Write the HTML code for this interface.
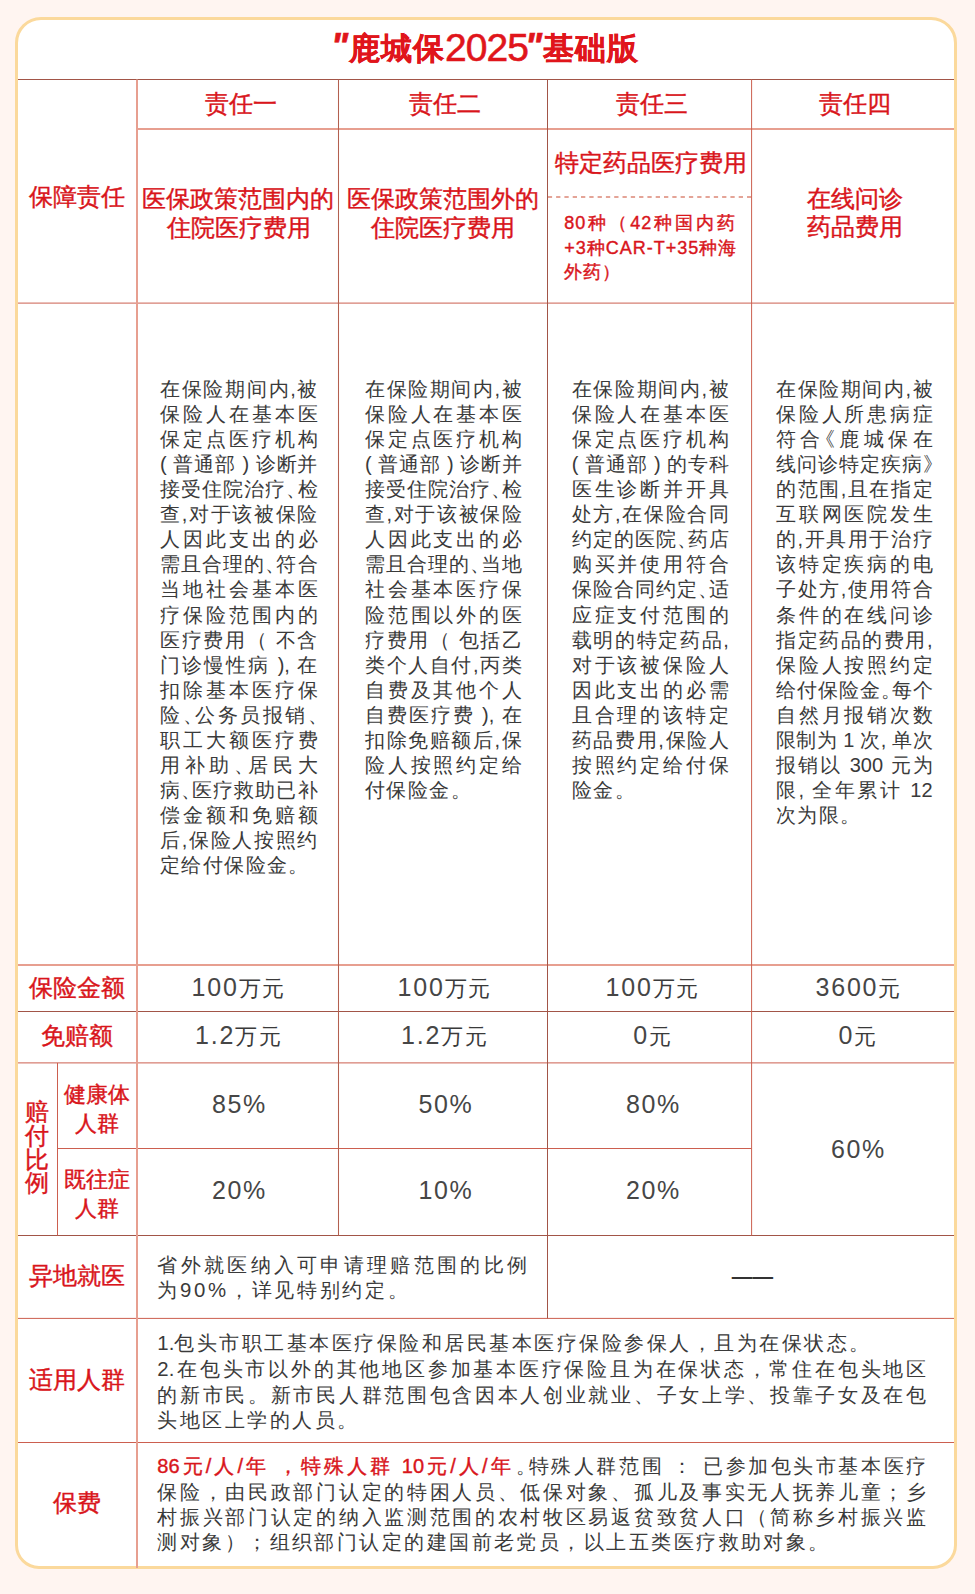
<!DOCTYPE html>
<html lang="zh"><head><meta charset="utf-8"><title>鹿城保2025基础版</title>
<style>
html,body{margin:0;padding:0}
body{width:975px;height:1594px;position:relative;overflow:hidden;background:#FFF5F1;font-family:"Liberation Sans",sans-serif}
.frame{position:absolute;left:15px;top:17px;width:942px;height:1552px;box-sizing:border-box;border:3px solid #FBD99C;border-radius:26px 26px 24px 24px;background:#fff}
svg.g{position:absolute;left:0;top:0}
.t{position:absolute;white-space:nowrap;margin:0}
.c{text-align:center}
.j{text-align:justify;text-align-last:justify}
.l{text-align:left}
.p{display:inline-block;width:.5em;text-align:left}
.q{font-size:36px;line-height:0;letter-spacing:0;-webkit-text-stroke:.7px #E0151B}
.q1{margin-left:-4px;margin-right:1px}
.q2{margin-left:-3px;margin-right:1px}
.n{font-size:39px;font-weight:400;letter-spacing:-1px;-webkit-text-stroke:.6px #E0151B;line-height:0;vertical-align:-2px}
.z{letter-spacing:0}
.po{text-indent:-.5em}
.d{font-size:25px;line-height:0;color:#464646}
.m{-webkit-text-stroke:.4px currentColor}
</style></head><body>
<div class="frame"></div>
<svg class="g" width="975" height="1594" viewBox="0 0 975 1594">
<line x1="18" y1="79.5" x2="954" y2="79.5" stroke="#A25547" stroke-width="1.0"/>
<line x1="137" y1="129.0" x2="954" y2="129.0" stroke="#E79F90" stroke-width="2.0"/>
<line x1="547.8" y1="197.1" x2="751.5" y2="197.1" stroke="#DC8676" stroke-width="1.5" stroke-dasharray="4.3 4"/>
<line x1="18" y1="303.1" x2="954" y2="303.1" stroke="#CC5F4F" stroke-width="1.0"/>
<line x1="18" y1="965.0" x2="954" y2="965.0" stroke="#E79F90" stroke-width="2.0"/>
<line x1="18" y1="1011.5" x2="954" y2="1011.5" stroke="#A25547" stroke-width="1.0"/>
<line x1="18" y1="1062.9" x2="954" y2="1062.9" stroke="#CC5F4F" stroke-width="1.0"/>
<line x1="57.5" y1="1148.5" x2="751.6" y2="1148.5" stroke="#CC5F4F" stroke-width="1.0"/>
<line x1="18" y1="1235.5" x2="954" y2="1235.5" stroke="#A25547" stroke-width="1.0"/>
<line x1="18" y1="1318.4" x2="954" y2="1318.4" stroke="#CC5F4F" stroke-width="1.0"/>
<line x1="18" y1="1442.5" x2="954" y2="1442.5" stroke="#CC5F4F" stroke-width="1.0"/>
<line x1="137.0" y1="79.5" x2="137.0" y2="1568" stroke="#E79F90" stroke-width="2.0"/>
<line x1="338.5" y1="79.5" x2="338.5" y2="1235.5" stroke="#B3604F" stroke-width="1.05"/>
<line x1="547.5" y1="79.5" x2="547.5" y2="1318.4" stroke="#A25547" stroke-width="1.0"/>
<line x1="751.6" y1="79.5" x2="751.6" y2="1235.5" stroke="#CC5F4F" stroke-width="1.0"/>
<line x1="57.5" y1="1062.9" x2="57.5" y2="1235.5" stroke="#CC5F4F" stroke-width="1.0"/>
</svg>
<div class="t c" style="left:187.0px;top:29.2px;width:600px;height:40px;line-height:40px;font-size:31px;color:#E0151B;font-weight:700;letter-spacing:1px;-webkit-text-stroke:.3px #E0151B;"><i class="q q1">"</i>鹿城保<span class="n">2025</span><i class="q q2">"</i>基础版</div>
<div class="t c m" style="left:-59.1px;top:87.9px;width:600px;height:31px;line-height:31px;font-size:24px;color:#D9151B;font-weight:400;letter-spacing:0px;">责任一</div>
<div class="t c m" style="left:145.3px;top:87.9px;width:600px;height:31px;line-height:31px;font-size:24px;color:#D9151B;font-weight:400;letter-spacing:0px;">责任二</div>
<div class="t c m" style="left:351.7px;top:87.9px;width:600px;height:31px;line-height:31px;font-size:24px;color:#D9151B;font-weight:400;letter-spacing:0px;">责任三</div>
<div class="t c m" style="left:555.3px;top:87.9px;width:600px;height:31px;line-height:31px;font-size:24px;color:#D9151B;font-weight:400;letter-spacing:0px;">责任四</div>
<div class="t c m" style="left:-223.0px;top:181.1px;width:600px;height:31px;line-height:31px;font-size:24px;color:#D9151B;font-weight:400;letter-spacing:0px;">保障责任</div>
<div class="t c m" style="left:-61.7px;top:183.3px;width:600px;height:31px;line-height:31px;font-size:24px;color:#D9151B;font-weight:400;letter-spacing:0px;">医保政策范围内的</div>
<div class="t c m" style="left:-61.4px;top:211.8px;width:600px;height:31px;line-height:31px;font-size:24px;color:#D9151B;font-weight:400;letter-spacing:0px;">住院医疗费用</div>
<div class="t c m" style="left:142.9px;top:183.3px;width:600px;height:31px;line-height:31px;font-size:24px;color:#D9151B;font-weight:400;letter-spacing:0px;">医保政策范围外的</div>
<div class="t c m" style="left:142.7px;top:211.8px;width:600px;height:31px;line-height:31px;font-size:24px;color:#D9151B;font-weight:400;letter-spacing:0px;">住院医疗费用</div>
<div class="t c m" style="left:350.5px;top:147.1px;width:600px;height:31px;line-height:31px;font-size:24px;color:#D9151B;font-weight:400;letter-spacing:0px;">特定药品医疗费用</div>
<div class="t c m" style="left:555.3px;top:183.0px;width:600px;height:31px;line-height:31px;font-size:24px;color:#D9151B;font-weight:400;letter-spacing:0px;">在线问诊</div>
<div class="t c m" style="left:555.3px;top:211.0px;width:600px;height:31px;line-height:31px;font-size:24px;color:#D9151B;font-weight:400;letter-spacing:0px;">药品费用</div>
<div class="t j m" style="left:564.2px;top:211.3px;width:172.0px;height:25px;line-height:25px;font-size:18px;color:#D9151B;font-weight:400;letter-spacing:1px">80种（42种国内药</div>
<div class="t j m" style="left:564.2px;top:235.7px;width:172.0px;height:25px;line-height:25px;font-size:18px;color:#D9151B;font-weight:400;letter-spacing:1px">+3种CAR-T+35种海</div>
<div class="t l m" style="left:564.2px;top:260.2px;height:25px;line-height:25px;font-size:18px;color:#D9151B;font-weight:400;letter-spacing:1px">外药）</div>
<div class="t j" style="left:160.0px;top:377.2px;width:157.5px;height:25px;line-height:25px;font-size:20px;color:#3a3a3a;font-weight:400;letter-spacing:0px">在保险期间内,被</div>
<div class="t j" style="left:160.0px;top:402.2px;width:157.5px;height:25px;line-height:25px;font-size:20px;color:#3a3a3a;font-weight:400;letter-spacing:0px">保险人在基本医</div>
<div class="t j" style="left:160.0px;top:427.3px;width:157.5px;height:25px;line-height:25px;font-size:20px;color:#3a3a3a;font-weight:400;letter-spacing:0px">保定点医疗机构</div>
<div class="t j" style="left:160.0px;top:452.3px;width:157.5px;height:25px;line-height:25px;font-size:20px;color:#3a3a3a;font-weight:400;letter-spacing:0px">( 普通部 ) 诊断并</div>
<div class="t j" style="left:160.0px;top:477.3px;width:157.5px;height:25px;line-height:25px;font-size:20px;color:#3a3a3a;font-weight:400;letter-spacing:0px">接受住院治疗<span class="p">、</span>检</div>
<div class="t j" style="left:160.0px;top:502.4px;width:157.5px;height:25px;line-height:25px;font-size:20px;color:#3a3a3a;font-weight:400;letter-spacing:0px">查,对于该被保险</div>
<div class="t j" style="left:160.0px;top:527.4px;width:157.5px;height:25px;line-height:25px;font-size:20px;color:#3a3a3a;font-weight:400;letter-spacing:0px">人因此支出的必</div>
<div class="t j" style="left:160.0px;top:552.4px;width:157.5px;height:25px;line-height:25px;font-size:20px;color:#3a3a3a;font-weight:400;letter-spacing:0px">需且合理的<span class="p">、</span>符合</div>
<div class="t j" style="left:160.0px;top:577.4px;width:157.5px;height:25px;line-height:25px;font-size:20px;color:#3a3a3a;font-weight:400;letter-spacing:0px">当地社会基本医</div>
<div class="t j" style="left:160.0px;top:602.5px;width:157.5px;height:25px;line-height:25px;font-size:20px;color:#3a3a3a;font-weight:400;letter-spacing:0px">疗保险范围内的</div>
<div class="t j" style="left:160.0px;top:627.5px;width:157.5px;height:25px;line-height:25px;font-size:20px;color:#3a3a3a;font-weight:400;letter-spacing:0px">医疗费用（ 不含</div>
<div class="t j" style="left:160.0px;top:652.5px;width:157.5px;height:25px;line-height:25px;font-size:20px;color:#3a3a3a;font-weight:400;letter-spacing:0px">门诊慢性病 ), 在</div>
<div class="t j" style="left:160.0px;top:677.6px;width:157.5px;height:25px;line-height:25px;font-size:20px;color:#3a3a3a;font-weight:400;letter-spacing:0px">扣除基本医疗保</div>
<div class="t j" style="left:160.0px;top:702.6px;width:157.5px;height:25px;line-height:25px;font-size:20px;color:#3a3a3a;font-weight:400;letter-spacing:0px">险<span class="p">、</span>公务员报销<span class="p">、</span></div>
<div class="t j" style="left:160.0px;top:727.6px;width:157.5px;height:25px;line-height:25px;font-size:20px;color:#3a3a3a;font-weight:400;letter-spacing:0px">职工大额医疗费</div>
<div class="t j" style="left:160.0px;top:752.7px;width:157.5px;height:25px;line-height:25px;font-size:20px;color:#3a3a3a;font-weight:400;letter-spacing:0px">用补助<span class="p">、</span>居民大</div>
<div class="t j" style="left:160.0px;top:777.7px;width:157.5px;height:25px;line-height:25px;font-size:20px;color:#3a3a3a;font-weight:400;letter-spacing:0px">病<span class="p">、</span>医疗救助已补</div>
<div class="t j" style="left:160.0px;top:802.7px;width:157.5px;height:25px;line-height:25px;font-size:20px;color:#3a3a3a;font-weight:400;letter-spacing:0px">偿金额和免赔额</div>
<div class="t j" style="left:160.0px;top:827.7px;width:157.5px;height:25px;line-height:25px;font-size:20px;color:#3a3a3a;font-weight:400;letter-spacing:0px">后,保险人按照约</div>
<div class="t l" style="left:160.0px;top:852.8px;height:25px;line-height:25px;font-size:20px;color:#3a3a3a;font-weight:400;letter-spacing:1.4px">定给付保险金<span class="p">。</span></div>
<div class="t j" style="left:365.0px;top:377.2px;width:156.7px;height:25px;line-height:25px;font-size:20px;color:#3a3a3a;font-weight:400;letter-spacing:0px">在保险期间内,被</div>
<div class="t j" style="left:365.0px;top:402.2px;width:156.7px;height:25px;line-height:25px;font-size:20px;color:#3a3a3a;font-weight:400;letter-spacing:0px">保险人在基本医</div>
<div class="t j" style="left:365.0px;top:427.3px;width:156.7px;height:25px;line-height:25px;font-size:20px;color:#3a3a3a;font-weight:400;letter-spacing:0px">保定点医疗机构</div>
<div class="t j" style="left:365.0px;top:452.3px;width:156.7px;height:25px;line-height:25px;font-size:20px;color:#3a3a3a;font-weight:400;letter-spacing:0px">( 普通部 ) 诊断并</div>
<div class="t j" style="left:365.0px;top:477.3px;width:156.7px;height:25px;line-height:25px;font-size:20px;color:#3a3a3a;font-weight:400;letter-spacing:0px">接受住院治疗<span class="p">、</span>检</div>
<div class="t j" style="left:365.0px;top:502.4px;width:156.7px;height:25px;line-height:25px;font-size:20px;color:#3a3a3a;font-weight:400;letter-spacing:0px">查,对于该被保险</div>
<div class="t j" style="left:365.0px;top:527.4px;width:156.7px;height:25px;line-height:25px;font-size:20px;color:#3a3a3a;font-weight:400;letter-spacing:0px">人因此支出的必</div>
<div class="t j" style="left:365.0px;top:552.4px;width:156.7px;height:25px;line-height:25px;font-size:20px;color:#3a3a3a;font-weight:400;letter-spacing:0px">需且合理的<span class="p">、</span>当地</div>
<div class="t j" style="left:365.0px;top:577.4px;width:156.7px;height:25px;line-height:25px;font-size:20px;color:#3a3a3a;font-weight:400;letter-spacing:0px">社会基本医疗保</div>
<div class="t j" style="left:365.0px;top:602.5px;width:156.7px;height:25px;line-height:25px;font-size:20px;color:#3a3a3a;font-weight:400;letter-spacing:0px">险范围以外的医</div>
<div class="t j" style="left:365.0px;top:627.5px;width:156.7px;height:25px;line-height:25px;font-size:20px;color:#3a3a3a;font-weight:400;letter-spacing:0px">疗费用（ 包括乙</div>
<div class="t j" style="left:365.0px;top:652.5px;width:156.7px;height:25px;line-height:25px;font-size:20px;color:#3a3a3a;font-weight:400;letter-spacing:0px">类个人自付,丙类</div>
<div class="t j" style="left:365.0px;top:677.6px;width:156.7px;height:25px;line-height:25px;font-size:20px;color:#3a3a3a;font-weight:400;letter-spacing:0px">自费及其他个人</div>
<div class="t j" style="left:365.0px;top:702.6px;width:156.7px;height:25px;line-height:25px;font-size:20px;color:#3a3a3a;font-weight:400;letter-spacing:0px">自费医疗费 ), 在</div>
<div class="t j" style="left:365.0px;top:727.6px;width:156.7px;height:25px;line-height:25px;font-size:20px;color:#3a3a3a;font-weight:400;letter-spacing:0px">扣除免赔额后,保</div>
<div class="t j" style="left:365.0px;top:752.7px;width:156.7px;height:25px;line-height:25px;font-size:20px;color:#3a3a3a;font-weight:400;letter-spacing:0px">险人按照约定给</div>
<div class="t l" style="left:365.0px;top:777.7px;height:25px;line-height:25px;font-size:20px;color:#3a3a3a;font-weight:400;letter-spacing:1.4px">付保险金<span class="p">。</span></div>
<div class="t j" style="left:571.8px;top:377.2px;width:157.0px;height:25px;line-height:25px;font-size:20px;color:#3a3a3a;font-weight:400;letter-spacing:0px">在保险期间内,被</div>
<div class="t j" style="left:571.8px;top:402.2px;width:157.0px;height:25px;line-height:25px;font-size:20px;color:#3a3a3a;font-weight:400;letter-spacing:0px">保险人在基本医</div>
<div class="t j" style="left:571.8px;top:427.3px;width:157.0px;height:25px;line-height:25px;font-size:20px;color:#3a3a3a;font-weight:400;letter-spacing:0px">保定点医疗机构</div>
<div class="t j" style="left:571.8px;top:452.3px;width:157.0px;height:25px;line-height:25px;font-size:20px;color:#3a3a3a;font-weight:400;letter-spacing:0px">( 普通部 ) 的专科</div>
<div class="t j" style="left:571.8px;top:477.3px;width:157.0px;height:25px;line-height:25px;font-size:20px;color:#3a3a3a;font-weight:400;letter-spacing:0px">医生诊断并开具</div>
<div class="t j" style="left:571.8px;top:502.4px;width:157.0px;height:25px;line-height:25px;font-size:20px;color:#3a3a3a;font-weight:400;letter-spacing:0px">处方,在保险合同</div>
<div class="t j" style="left:571.8px;top:527.4px;width:157.0px;height:25px;line-height:25px;font-size:20px;color:#3a3a3a;font-weight:400;letter-spacing:0px">约定的医院<span class="p">、</span>药店</div>
<div class="t j" style="left:571.8px;top:552.4px;width:157.0px;height:25px;line-height:25px;font-size:20px;color:#3a3a3a;font-weight:400;letter-spacing:0px">购买并使用符合</div>
<div class="t j" style="left:571.8px;top:577.4px;width:157.0px;height:25px;line-height:25px;font-size:20px;color:#3a3a3a;font-weight:400;letter-spacing:0px">保险合同约定<span class="p">、</span>适</div>
<div class="t j" style="left:571.8px;top:602.5px;width:157.0px;height:25px;line-height:25px;font-size:20px;color:#3a3a3a;font-weight:400;letter-spacing:0px">应症支付范围的</div>
<div class="t j" style="left:571.8px;top:627.5px;width:157.0px;height:25px;line-height:25px;font-size:20px;color:#3a3a3a;font-weight:400;letter-spacing:0px">载明的特定药品,</div>
<div class="t j" style="left:571.8px;top:652.5px;width:157.0px;height:25px;line-height:25px;font-size:20px;color:#3a3a3a;font-weight:400;letter-spacing:0px">对于该被保险人</div>
<div class="t j" style="left:571.8px;top:677.6px;width:157.0px;height:25px;line-height:25px;font-size:20px;color:#3a3a3a;font-weight:400;letter-spacing:0px">因此支出的必需</div>
<div class="t j" style="left:571.8px;top:702.6px;width:157.0px;height:25px;line-height:25px;font-size:20px;color:#3a3a3a;font-weight:400;letter-spacing:0px">且合理的该特定</div>
<div class="t j" style="left:571.8px;top:727.6px;width:157.0px;height:25px;line-height:25px;font-size:20px;color:#3a3a3a;font-weight:400;letter-spacing:0px">药品费用,保险人</div>
<div class="t j" style="left:571.8px;top:752.7px;width:157.0px;height:25px;line-height:25px;font-size:20px;color:#3a3a3a;font-weight:400;letter-spacing:0px">按照约定给付保</div>
<div class="t l" style="left:571.8px;top:777.7px;height:25px;line-height:25px;font-size:20px;color:#3a3a3a;font-weight:400;letter-spacing:1.4px">险金<span class="p">。</span></div>
<div class="t j" style="left:776.0px;top:377.2px;width:156.6px;height:25px;line-height:25px;font-size:20px;color:#3a3a3a;font-weight:400;letter-spacing:0px">在保险期间内,被</div>
<div class="t j" style="left:776.0px;top:402.2px;width:156.6px;height:25px;line-height:25px;font-size:20px;color:#3a3a3a;font-weight:400;letter-spacing:0px">保险人所患病症</div>
<div class="t j" style="left:776.0px;top:427.3px;width:156.6px;height:25px;line-height:25px;font-size:20px;color:#3a3a3a;font-weight:400;letter-spacing:0px">符合<span class="p po">《</span>鹿城保在</div>
<div class="t j" style="left:776.0px;top:452.3px;width:156.6px;height:25px;line-height:25px;font-size:20px;color:#3a3a3a;font-weight:400;letter-spacing:0px">线问诊特定疾病<span class="p">》</span></div>
<div class="t j" style="left:776.0px;top:477.3px;width:156.6px;height:25px;line-height:25px;font-size:20px;color:#3a3a3a;font-weight:400;letter-spacing:0px">的范围,且在指定</div>
<div class="t j" style="left:776.0px;top:502.4px;width:156.6px;height:25px;line-height:25px;font-size:20px;color:#3a3a3a;font-weight:400;letter-spacing:0px">互联网医院发生</div>
<div class="t j" style="left:776.0px;top:527.4px;width:156.6px;height:25px;line-height:25px;font-size:20px;color:#3a3a3a;font-weight:400;letter-spacing:0px">的,开具用于治疗</div>
<div class="t j" style="left:776.0px;top:552.4px;width:156.6px;height:25px;line-height:25px;font-size:20px;color:#3a3a3a;font-weight:400;letter-spacing:0px">该特定疾病的电</div>
<div class="t j" style="left:776.0px;top:577.4px;width:156.6px;height:25px;line-height:25px;font-size:20px;color:#3a3a3a;font-weight:400;letter-spacing:0px">子处方,使用符合</div>
<div class="t j" style="left:776.0px;top:602.5px;width:156.6px;height:25px;line-height:25px;font-size:20px;color:#3a3a3a;font-weight:400;letter-spacing:0px">条件的在线问诊</div>
<div class="t j" style="left:776.0px;top:627.5px;width:156.6px;height:25px;line-height:25px;font-size:20px;color:#3a3a3a;font-weight:400;letter-spacing:0px">指定药品的费用,</div>
<div class="t j" style="left:776.0px;top:652.5px;width:156.6px;height:25px;line-height:25px;font-size:20px;color:#3a3a3a;font-weight:400;letter-spacing:0px">保险人按照约定</div>
<div class="t j" style="left:776.0px;top:677.6px;width:156.6px;height:25px;line-height:25px;font-size:20px;color:#3a3a3a;font-weight:400;letter-spacing:0px">给付保险金<span class="p">。</span>每个</div>
<div class="t j" style="left:776.0px;top:702.6px;width:156.6px;height:25px;line-height:25px;font-size:20px;color:#3a3a3a;font-weight:400;letter-spacing:0px">自然月报销次数</div>
<div class="t j" style="left:776.0px;top:727.6px;width:156.6px;height:25px;line-height:25px;font-size:20px;color:#3a3a3a;font-weight:400;letter-spacing:0px">限制为 1 次, 单次</div>
<div class="t j" style="left:776.0px;top:752.7px;width:156.6px;height:25px;line-height:25px;font-size:20px;color:#3a3a3a;font-weight:400;letter-spacing:0px">报销以 300 元为</div>
<div class="t j" style="left:776.0px;top:777.7px;width:156.6px;height:25px;line-height:25px;font-size:20px;color:#3a3a3a;font-weight:400;letter-spacing:0px">限, 全年累计 12</div>
<div class="t l" style="left:776.0px;top:802.7px;height:25px;line-height:25px;font-size:20px;color:#3a3a3a;font-weight:400;letter-spacing:1.4px">次为限<span class="p">。</span></div>
<div class="t c m" style="left:-223.0px;top:972.3px;width:600px;height:31px;line-height:31px;font-size:24px;color:#D9151B;font-weight:400;letter-spacing:0px;">保险金额</div>
<div class="t c m" style="left:-223.0px;top:1020.1px;width:600px;height:31px;line-height:31px;font-size:24px;color:#D9151B;font-weight:400;letter-spacing:0px;">免赔额</div>
<div class="t c" style="left:-61.1px;top:974.1px;width:600px;height:30px;line-height:30px;font-size:22px;color:#3a3a3a;font-weight:400;letter-spacing:1.8px;"><span class="d">100</span>万元</div>
<div class="t c" style="left:144.9px;top:974.1px;width:600px;height:30px;line-height:30px;font-size:22px;color:#3a3a3a;font-weight:400;letter-spacing:1.8px;"><span class="d">100</span>万元</div>
<div class="t c" style="left:352.9px;top:974.1px;width:600px;height:30px;line-height:30px;font-size:22px;color:#3a3a3a;font-weight:400;letter-spacing:1.8px;"><span class="d">100</span>万元</div>
<div class="t c" style="left:558.8px;top:974.1px;width:600px;height:30px;line-height:30px;font-size:22px;color:#3a3a3a;font-weight:400;letter-spacing:1.8px;"><span class="d">3600</span>元</div>
<div class="t c" style="left:-61.1px;top:1022.0px;width:600px;height:30px;line-height:30px;font-size:22px;color:#3a3a3a;font-weight:400;letter-spacing:1.8px;"><span class="d">1.2</span>万元</div>
<div class="t c" style="left:144.9px;top:1022.0px;width:600px;height:30px;line-height:30px;font-size:22px;color:#3a3a3a;font-weight:400;letter-spacing:1.8px;"><span class="d">1.2</span>万元</div>
<div class="t c" style="left:352.9px;top:1022.0px;width:600px;height:30px;line-height:30px;font-size:22px;color:#3a3a3a;font-weight:400;letter-spacing:1.8px;"><span class="d">0</span>元</div>
<div class="t c" style="left:558.2px;top:1022.0px;width:600px;height:30px;line-height:30px;font-size:22px;color:#3a3a3a;font-weight:400;letter-spacing:1.8px;"><span class="d">0</span>元</div>
<div class="t c m" style="left:-262.9px;top:1100.3px;width:600px;height:24px;line-height:24px;font-size:24px;color:#D9151B;font-weight:400;letter-spacing:0px;">赔</div>
<div class="t c m" style="left:-262.9px;top:1123.9px;width:600px;height:24px;line-height:24px;font-size:24px;color:#D9151B;font-weight:400;letter-spacing:0px;">付</div>
<div class="t c m" style="left:-262.9px;top:1147.5px;width:600px;height:24px;line-height:24px;font-size:24px;color:#D9151B;font-weight:400;letter-spacing:0px;">比</div>
<div class="t c m" style="left:-262.9px;top:1171.1px;width:600px;height:24px;line-height:24px;font-size:24px;color:#D9151B;font-weight:400;letter-spacing:0px;">例</div>
<div class="t c m" style="left:-202.7px;top:1079.5px;width:600px;height:29px;line-height:29px;font-size:22px;color:#D9151B;font-weight:400;letter-spacing:0px;">健康体</div>
<div class="t c m" style="left:-202.7px;top:1108.7px;width:600px;height:29px;line-height:29px;font-size:22px;color:#D9151B;font-weight:400;letter-spacing:0px;">人群</div>
<div class="t c m" style="left:-202.7px;top:1164.5px;width:600px;height:29px;line-height:29px;font-size:22px;color:#D9151B;font-weight:400;letter-spacing:0px;">既往症</div>
<div class="t c m" style="left:-202.7px;top:1193.5px;width:600px;height:29px;line-height:29px;font-size:22px;color:#D9151B;font-weight:400;letter-spacing:0px;">人群</div>
<div class="t c" style="left:-60.5px;top:1091.3px;width:600px;height:30px;line-height:30px;font-size:22px;color:#3a3a3a;font-weight:400;letter-spacing:1.6px;"><span class="d">85%</span></div>
<div class="t c" style="left:145.8px;top:1091.3px;width:600px;height:30px;line-height:30px;font-size:22px;color:#3a3a3a;font-weight:400;letter-spacing:1.6px;"><span class="d">50%</span></div>
<div class="t c" style="left:353.3px;top:1091.3px;width:600px;height:30px;line-height:30px;font-size:22px;color:#3a3a3a;font-weight:400;letter-spacing:1.6px;"><span class="d">80%</span></div>
<div class="t c" style="left:-60.5px;top:1177.2px;width:600px;height:30px;line-height:30px;font-size:22px;color:#3a3a3a;font-weight:400;letter-spacing:1.6px;"><span class="d">20%</span></div>
<div class="t c" style="left:145.8px;top:1177.2px;width:600px;height:30px;line-height:30px;font-size:22px;color:#3a3a3a;font-weight:400;letter-spacing:1.6px;"><span class="d">10%</span></div>
<div class="t c" style="left:353.3px;top:1177.2px;width:600px;height:30px;line-height:30px;font-size:22px;color:#3a3a3a;font-weight:400;letter-spacing:1.6px;"><span class="d">20%</span></div>
<div class="t c" style="left:558.4px;top:1136.4px;width:600px;height:30px;line-height:30px;font-size:22px;color:#3a3a3a;font-weight:400;letter-spacing:1.6px;"><span class="d">60%</span></div>
<div class="t c m" style="left:-223.0px;top:1259.8px;width:600px;height:31px;line-height:31px;font-size:24px;color:#D9151B;font-weight:400;letter-spacing:0px;">异地就医</div>
<div class="t c m" style="left:-223.0px;top:1363.8px;width:600px;height:31px;line-height:31px;font-size:24px;color:#D9151B;font-weight:400;letter-spacing:0px;">适用人群</div>
<div class="t c m" style="left:-223.0px;top:1486.7px;width:600px;height:31px;line-height:31px;font-size:24px;color:#D9151B;font-weight:400;letter-spacing:0px;">保费</div>
<div class="t j" style="left:157.3px;top:1253.2px;width:369.7px;height:24px;line-height:24px;font-size:20.4px;color:#3a3a3a;font-weight:400;letter-spacing:0px">省外就医纳入可申请理赔范围的比例</div>
<div class="t l" style="left:157.3px;top:1278.4px;height:24px;line-height:24px;font-size:20.4px;color:#3a3a3a;font-weight:400;letter-spacing:2.7px">为90%，详见特别约定。</div>
<div class="t c" style="left:452.4px;top:1262.9px;width:600px;height:26px;line-height:26px;font-size:20.6px;color:#333;font-weight:700;letter-spacing:0px;">——</div>
<div class="t l" style="left:157.3px;top:1331.2px;height:25px;line-height:25px;font-size:20.4px;color:#3a3a3a;font-weight:400;letter-spacing:2.5px"><span class="z">1.</span>包头市职工基本医疗保险和居民基本医疗保险参保人，且为在保状态。</div>
<div class="t j" style="left:157.3px;top:1356.9px;width:768.9px;height:25px;line-height:25px;font-size:20.4px;color:#3a3a3a;font-weight:400;letter-spacing:0px"><span class="z">2.</span>在包头市以外的其他地区参加基本医疗保险且为在保状态，常住在包头地区</div>
<div class="t j" style="left:157.3px;top:1382.5px;width:768.9px;height:25px;line-height:25px;font-size:20.4px;color:#3a3a3a;font-weight:400;letter-spacing:0px">的新市民。新市民人群范围包含因本人创业就业、子女上学、投靠子女及在包</div>
<div class="t l" style="left:157.3px;top:1408.2px;height:25px;line-height:25px;font-size:20.4px;color:#3a3a3a;font-weight:400;letter-spacing:2.5px">头地区上学的人员。</div>
<div class="t j m" style="left:157.3px;top:1454.4px;width:353.3px;height:25px;line-height:25px;font-size:20px;color:#D9151B;font-weight:400;letter-spacing:0px">86元/人/年 ，特殊人群 10元/人/年</div>
<div class="t j" style="left:516.0px;top:1454.4px;width:410.2px;height:25px;line-height:25px;font-size:20.4px;color:#3a3a3a;font-weight:400;letter-spacing:0px"><span class="p">。</span>特殊人群范围 ： 已参加包头市基本医疗</div>
<div class="t j" style="left:157.3px;top:1479.9px;width:768.9px;height:25px;line-height:25px;font-size:20.4px;color:#3a3a3a;font-weight:400;letter-spacing:0px">保险，由民政部门认定的特困人员、低保对象、孤儿及事实无人抚养儿童；乡</div>
<div class="t j" style="left:157.3px;top:1504.9px;width:768.9px;height:25px;line-height:25px;font-size:20.4px;color:#3a3a3a;font-weight:400;letter-spacing:0px">村振兴部门认定的纳入监测范围的农村牧区易返贫致贫人口（简称乡村振兴监</div>
<div class="t l" style="left:157.3px;top:1530.1px;height:25px;line-height:25px;font-size:20.4px;color:#3a3a3a;font-weight:400;letter-spacing:2.45px">测对象）；组织部门认定的建国前老党员，以上五类医疗救助对象。</div>
</body></html>
